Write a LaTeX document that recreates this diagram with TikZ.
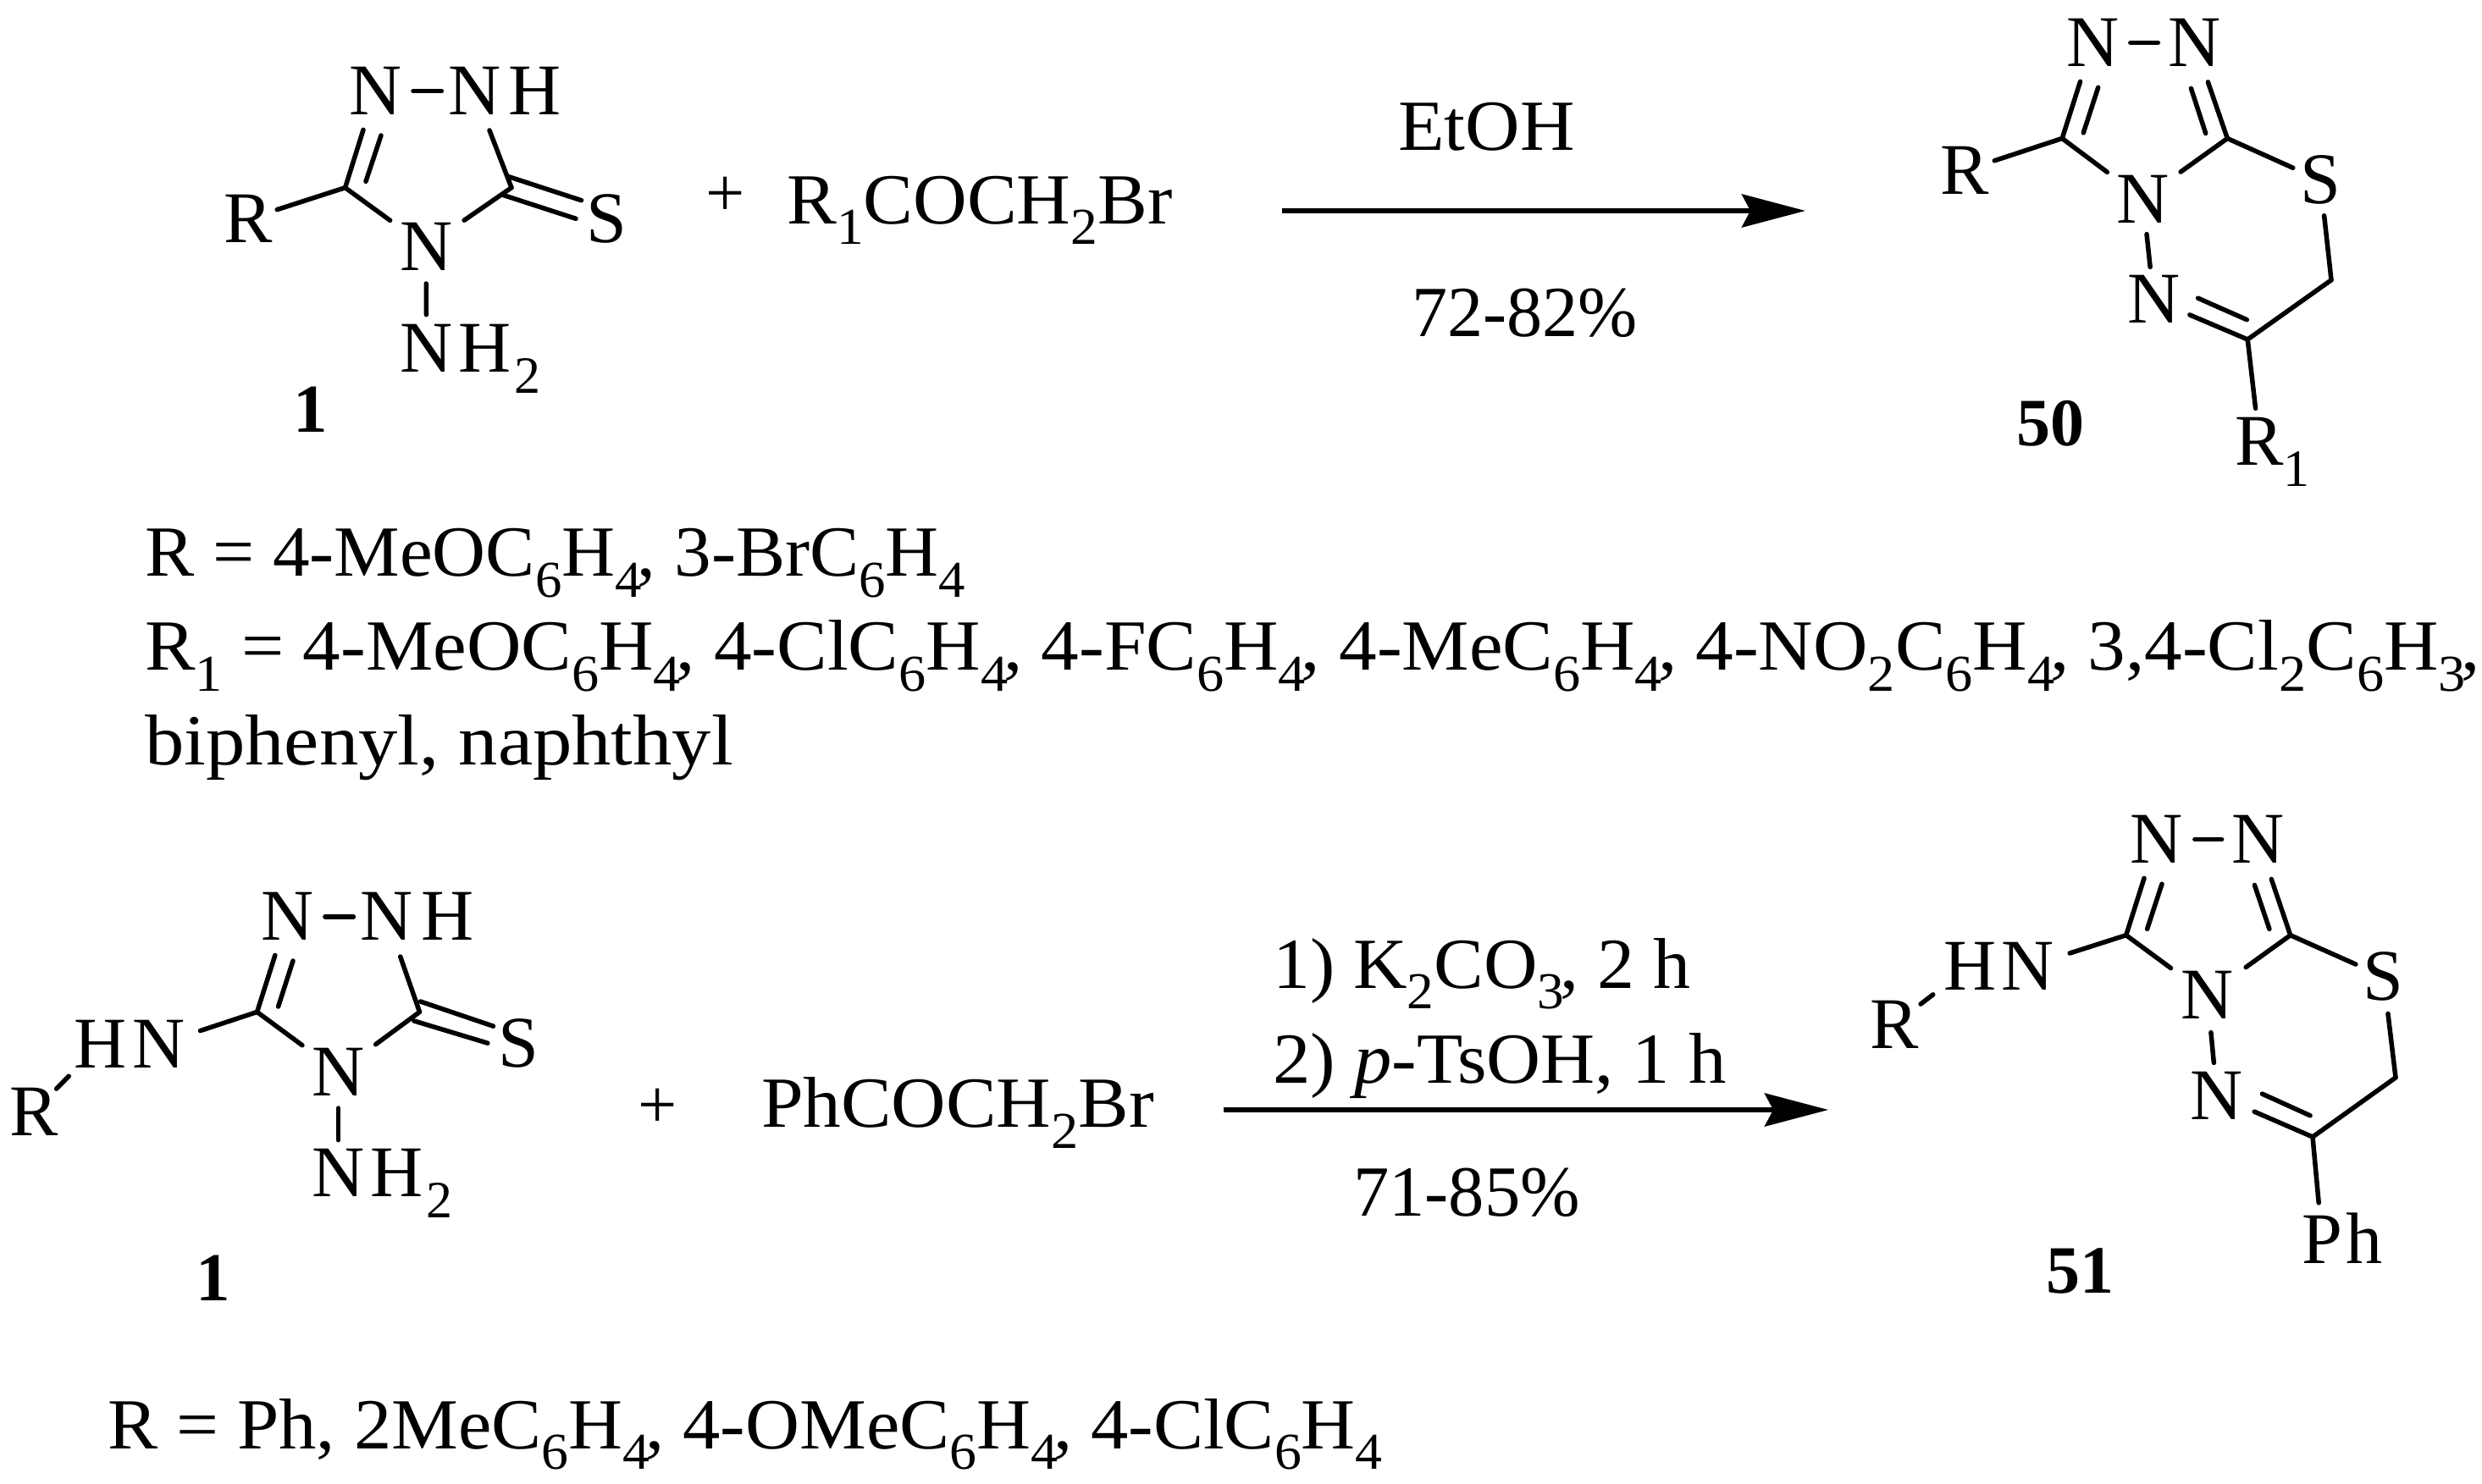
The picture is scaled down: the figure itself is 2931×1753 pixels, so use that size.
\documentclass[tikz,border=0pt]{standalone}
\usepackage{fontspec}
\setmainfont{Liberation Serif}
\newfontfamily\txtf[FakeStretch=1.05]{Liberation Serif}
\usetikzlibrary{arrows.meta}
\makeatletter
\newcommand\sbs[1]{\smash{\raisebox{-.29em}{\fontsize{\fpeval{.72*\f@size}}{10}\selectfont #1}}}
\makeatother
\newcommand\cm{\kern-.06em,}
\newcommand\st[1]{\addfontfeature{FakeStretch=#1}}
\tikzset{
  bond/.style={line width=5.5pt,line cap=round,line join=round,black},
  atomA/.style={inner sep=0pt,font=\fontsize{86}{90}\selectfont},
  txt/.style={inner sep=0pt,anchor=base west,font=\txtf\fontsize{85}{90}\selectfont},
  plus/.style={inner sep=0pt,font=\fontsize{82}{86}\selectfont},
  lab/.style={inner sep=0pt,font=\bfseries\fontsize{#1}{84}\selectfont},
  rxn/.style={line width=6pt,-{Stealth[length=75pt,width=39pt,inset=10pt]}}
}
\begin{document}
\begin{tikzpicture}[x=1pt,y=-1pt]
\useasboundingbox (0,0) rectangle (2931,1753);
% ---------- compound 1 (top)
\coordinate (c1) at (407.6,221.7);
\coordinate (c2) at (604,221.7);
\node[atomA] (aR) at (292.9,258.7) {R};
\node[atomA] (aN1) at (443.3,107.7) {N};
\node[atomA] (aN2) at (560.3,107.7) {N\rlap{\kern9pt H}};
\node[atomA] (aN3) at (503.1,291.3) {N};
\node[atomA] (aS) at (716,258.7) {S};
\node[atomA] (aN4) at (503.6,411.7) {N\rlap{\kern7pt H\kern4pt\sbs{2}}};
\node[lab=81] (aL) at (366.5,484) {1};
\draw[bond,shorten >=36pt] (c1) -- (aR.center);
\draw[bond,shorten >=47.8pt] (c1) -- (aN1.center);
\coordinate (ai1) at (432,214.3); \coordinate (ai2) at (450,160);
\draw[bond] (ai1) -- (ai2);
\draw[bond,shorten <=44.7pt,shorten >=38.9pt] (aN1.center) -- (aN2.center);
\draw[bond,shorten >=49.5pt] (c2) -- (aN2.center);
\draw[bond,shorten >=52.5pt] (c1) -- (aN3.center);
\draw[bond,shorten >=54.7pt] (c2) -- (aN3.center);
\draw[bond,shorten <=43.7pt,shorten >=40pt] (aN3.center) -- (aN4.center);
\coordinate (as1) at (599.5,208.3); \coordinate (as2) at (686.6,236.7);
\coordinate (as3) at (592.9,230); \coordinate (as4) at (680,258.3);
\draw[bond] (as1) -- (as2);
\draw[bond] (as3) -- (as4);
% ---------- top reaction
\node[plus] (p1) at (857,232) {+};
\node[txt] (r1) at (929,264) {\st{1.037}R\sbs{1}COCH\sbs{2}Br};
\node[txt] (e1) at (1651,177.7) {EtOH};
\node[txt] (y1) at (1667,397.3) {\st{0.99}72-82\%};
\coordinate (a1s) at (1514,249); \coordinate (a1e) at (2132,249);
\draw[rxn] (a1s) -- (a1e);
% ---------- compound 50
\coordinate (c3) at (2435.2,163.5);
\coordinate (c4) at (2630.3,163.5);
\coordinate (c5) at (2654.2,401);
\coordinate (c6) at (2753,330.8);
\node[atomA] (bR) at (2320.3,201.3) {R};
\node[atomA] (bN5) at (2471.2,50.3) {N};
\node[atomA] (bN6) at (2591.3,50.3) {N};
\node[atomA] (bN7) at (2530.6,235) {N};
\node[atomA] (bS) at (2740,212.8) {S};
\node[atomA] (bN8) at (2543.2,353.8) {N};
\node[atomA] (bR1) at (2668,521) {R\rlap{\sbs{1}}};
\node[lab=80] (bL) at (2421.3,499.9) {50};
\draw[bond,shorten >=36.8pt] (c3) -- (bR.center);
\draw[bond,shorten >=48.3pt] (c3) -- (bN5.center);
\coordinate (bi1) at (2477.7,103.3); \coordinate (bi2) at (2460.3,156.9);
\draw[bond] (bi1) -- (bi2);
\draw[bond,shorten <=44.6pt,shorten >=43pt] (bN5.center) -- (bN6.center);
\draw[bond,shorten >=49.3pt] (c4) -- (bN6.center);
\coordinate (bi3) at (2587.4,104.4); \coordinate (bi4) at (2604.7,157.6);
\draw[bond] (bi3) -- (bi4);
\draw[bond,shorten >=52.8pt] (c3) -- (bN7.center);
\draw[bond,shorten >=54.8pt] (c4) -- (bN7.center);
\draw[bond,shorten >=35.4pt] (c4) -- (bS.center);
\draw[bond,shorten <=42.2pt] (bS.center) -- (c6);
\draw[bond] (c6) -- (c5);
\draw[bond,shorten >=46.3pt] (c5) -- (bN8.center);
\coordinate (bi5) at (2595.6,352.2); \coordinate (bi6) at (2653.3,377.7);
\draw[bond] (bi5) -- (bi6);
\draw[bond,shorten <=41.8pt,shorten >=38.6pt] (bN7.center) -- (bN8.center);
\draw[bond,shorten >=38.8pt] (c5) -- (bR1.center);
% ---------- definitions, first scheme
\node[txt] (t1) at (171,680.7) {\st{1.026}R = 4-MeOC\sbs{6}H\sbs{4}\cm{} 3-BrC\sbs{6}H\sbs{4}};
\node[txt] (t2) at (171,791.7) {R\sbs{1} = 4-MeOC\sbs{6}H\sbs{4}\cm{} 4-ClC\sbs{6}H\sbs{4}\cm{} 4-FC\sbs{6}H\sbs{4}\cm{} 4-MeC\sbs{6}H\sbs{4}\cm{} 4-NO\sbs{2}C\sbs{6}H\sbs{4}\cm{} 3,4-Cl\sbs{2}C\sbs{6}H\sbs{3}\cm};
\node[txt] (t3) at (171,903.3) {\st{1.09}biphenyl, naphthyl};
% ---------- compound 1 (bottom)
\coordinate (c7) at (303.6,1195.4);
\coordinate (c8) at (495.5,1195.4);
\coordinate (ch1) at (118.3,1233.6);
\node[atomA] (cN9) at (339.3,1082.8) {N};
\node[atomA] (cN10) at (456.3,1082.8) {N\rlap{\kern10pt H}};
\node[atomA] (cHN) at (188,1233.6) {\llap{H\kern7pt}N};
\node[atomA] (cR) at (39.7,1313.5) {R};
\node[atomA] (cN11) at (399.6,1266.2) {N};
\node[atomA] (cS) at (612,1232.5) {S};
\node[atomA] (cN12) at (399.6,1385.8) {N\rlap{\kern7pt H\kern4pt\sbs{2}}};
\node[lab=81] (cL) at (251.8,1510.2) {1};
\draw[bond,shorten >=51pt] (c7) -- (cHN.center);
\draw[bond,shorten <=38.4pt,shorten >=52.8pt] (cR.center) -- (ch1);
\draw[bond,shorten >=47.8pt] (c7) -- (cN9.center);
\coordinate (ci1) at (346,1135); \coordinate (ci2) at (328.6,1189);
\draw[bond] (ci1) -- (ci2);
\draw[bond,shorten <=44.6pt,shorten >=38.9pt] (cN9.center) -- (cN10.center);
\draw[bond,shorten >=50pt] (c8) -- (cN10.center);
\draw[bond,shorten >=53pt] (c7) -- (cN11.center);
\draw[bond,shorten >=54.7pt] (c8) -- (cN11.center);
\coordinate (cs1) at (496.4,1183); \coordinate (cs2) at (582.6,1212.2);
\coordinate (cs3) at (488.8,1205.9); \coordinate (cs4) at (575.9,1232.2);
\draw[bond] (cs1) -- (cs2);
\draw[bond] (cs3) -- (cs4);
\draw[bond,shorten <=42.8pt,shorten >=39.1pt] (cN11.center) -- (cN12.center);
% ---------- bottom reaction
\node[plus] (p2) at (777,1309.7) {+};
\node[txt] (r2) at (899,1331.7) {PhCOCH\sbs{2}Br};
\node[txt] (k1) at (1503,1167.3) {\st{1.034}1) K\sbs{2}CO\sbs{3}\cm{} 2 h};
\node[txt] (k2) at (1503,1279) {\st{1.043}2) \textit{p}-TsOH, 1 h};
\node[txt] (y2) at (1598,1436.7) {\st{0.995}71-85\%};
\coordinate (a2s) at (1444.5,1311); \coordinate (a2e) at (2159,1311);
\draw[rxn] (a2s) -- (a2e);
% ---------- compound 51
\coordinate (c9) at (2510.7,1104.7);
\coordinate (c10) at (2704.7,1104.7);
\coordinate (c11) at (2731,1343);
\coordinate (c12) at (2829,1272.9);
\coordinate (dh1) at (2325.6,1141.8);
\node[atomA] (dN13) at (2546.5,991.6) {N};
\node[atomA] (dN14) at (2666.4,991.6) {N};
\node[atomA] (dHN) at (2394.8,1141.8) {\llap{H\kern6pt}N};
\node[atomA] (dR) at (2237,1210) {R};
\node[atomA] (dN15) at (2606.7,1175.3) {N};
\node[atomA] (dS) at (2814.7,1153.7) {S};
\node[atomA] (dN16) at (2618,1294) {N};
\node[atomA] (dPh) at (2742,1462.3) {P\rlap{\kern5pt h}};
\node[lab=80] (dL) at (2456,1501.5) {51};
\draw[bond,shorten >=51.8pt] (c9) -- (dHN.center);
\draw[bond,shorten <=39.2pt,shorten >=54.1pt] (dR.center) -- (dh1);
\draw[bond,shorten >=48pt] (c9) -- (dN13.center);
\coordinate (di1) at (2553,1044.2); \coordinate (di2) at (2535.6,1097.4);
\draw[bond] (di1) -- (di2);
\draw[bond,shorten <=45.3pt,shorten >=42.8pt] (dN13.center) -- (dN14.center);
\draw[bond,shorten >=49.5pt] (c10) -- (dN14.center);
\coordinate (di3) at (2662.4,1045.5); \coordinate (di4) at (2679.9,1097.4);
\draw[bond] (di3) -- (di4);
\draw[bond,shorten >=53.6pt] (c9) -- (dN15.center);
\draw[bond,shorten >=56pt] (c10) -- (dN15.center);
\draw[bond,shorten >=35.9pt] (c10) -- (dS.center);
\draw[bond,shorten <=44pt] (dS.center) -- (c12);
\draw[bond] (c12) -- (c11);
\draw[bond,shorten >=48pt] (c11) -- (dN16.center);
\coordinate (di5) at (2671.4,1292.1); \coordinate (di6) at (2728.1,1317.8);
\draw[bond] (di5) -- (di6);
\draw[bond,shorten <=44.5pt,shorten >=38.7pt] (dN15.center) -- (dN16.center);
\draw[bond,shorten >=41.6pt] (c11) -- (dPh.center);
% ---------- definitions, second scheme
\node[txt] (t4) at (127,1711) {\st{1.042}R = Ph, 2MeC\sbs{6}H\sbs{4}\cm{} 4-OMeC\sbs{6}H\sbs{4}\cm{} 4-ClC\sbs{6}H\sbs{4}};
\end{tikzpicture}
\end{document}
